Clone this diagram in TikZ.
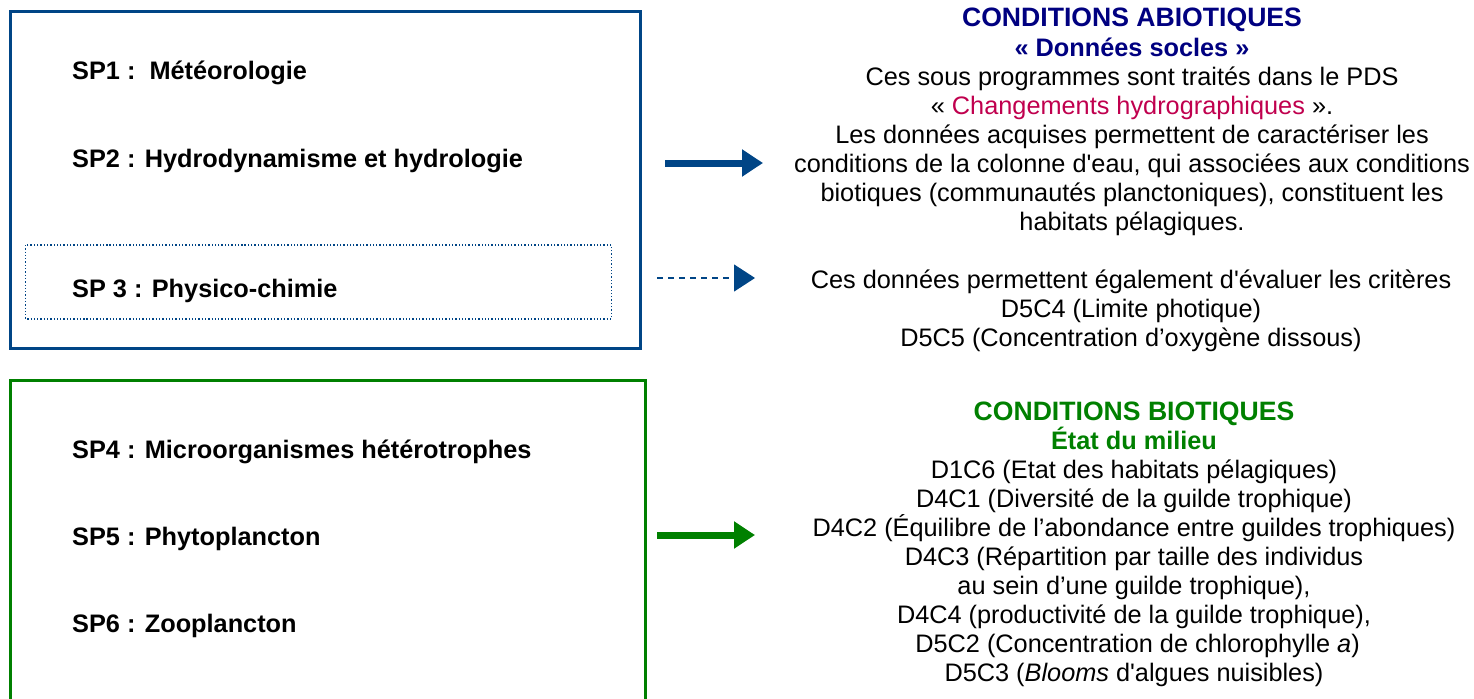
\documentclass[tikz,border=0pt]{standalone}
\usepackage{fontspec}
\setmainfont{Liberation Sans}[Ligatures=TeXOff]
\usetikzlibrary{arrows.meta}
\definecolor{boxblue}{HTML}{004586}
\definecolor{boxgreen}{HTML}{008000}
\definecolor{titlenavy}{HTML}{000080}
\definecolor{linkred}{HTML}{C0004E}
\newcommand{\capshead}{\fontsize{26.6bp}{29.1bp}\selectfont\bfseries}
\begin{document}
\begin{tikzpicture}[x=1bp,y=-1bp,
  txt/.style={font=\fontsize{25.3bp}{29.1bp}\selectfont, inner sep=0pt, align=center, anchor=base},
  sp/.style={font=\fontsize{25.3bp}{29.1bp}\selectfont\bfseries, inner sep=0pt, anchor=base west},
  frame/.style={line width=3bp},
  bigarrow/.style={line width=7bp, -{Triangle[length=21bp,width=26bp]}},
  dasharrow/.style={line width=1.3bp, dash pattern=on 6bp off 5bp, -{Triangle[length=21bp,width=27bp]}}
]
\useasboundingbox (0,0) rectangle (1474,699);
\clip (0,0) rectangle (1474,699);
% boxes
\draw[frame, boxblue] (10,12) rectangle (640,348);
\draw[boxblue, line width=1.3bp, dotted] (25.5,245) rectangle (611.5,319);
\draw[frame, boxgreen] (10,380) rectangle (645,720);
% left labels
\node[sp] (sp1) at (72,80) {SP1 :\ \ Météorologie};
\node[sp] (sp2) at (72,167) {SP2 : Hydrodynamisme et hydrologie};
\node[sp] (sp3) at (72,297) {SP 3 : Physico-chimie};
\node[sp] (sp4) at (72,458) {SP4 : Microorganismes hétérotrophes};
\node[sp] (sp5) at (72,545) {SP5 : Phytoplancton};
\node[sp] (sp6) at (72,632) {SP6 : Zooplancton};
% arrows
\coordinate (a1s) at (665,163);
\coordinate (a1e) at (763,163);
\coordinate (a2s) at (657,278);
\coordinate (a2e) at (755,278);
\coordinate (a3s) at (657,535);
\coordinate (a3e) at (755,535);
\draw[bigarrow, boxblue] (a1s) -- (a1e);
\draw[dasharrow, boxblue] (a2s) -- (a2e);
\draw[bigarrow, boxgreen] (a3s) -- (a3e);
% right texts (anchor base = baseline of the last line)
\node[txt] (abio) at (1132,230.7) {\textcolor{titlenavy}{\capshead CONDITIONS ABIOTIQUES}\\
\textcolor{titlenavy}{\bfseries « Données socles »}\\
Ces sous programmes sont traités dans le PDS\\
« \textcolor{linkred}{Changements hydrographiques} ».\\
Les données acquises permettent de caractériser les\\
conditions de la colonne d'eau, qui associées aux conditions\\
biotiques (communautés planctoniques), constituent les\\
habitats pélagiques.};
\node[txt] (crit) at (1131,346.2) {Ces données permettent également d'évaluer les critères\\
D5C4 (Limite photique)\\
D5C5 (Concentration d’oxygène dissous)};
\node[txt] (bio) at (1134,681.9) {\textcolor{boxgreen}{\capshead CONDITIONS BIOTIQUES}\\
\textcolor{boxgreen}{\bfseries État du milieu}\\
D1C6 (Etat des habitats pélagiques)\\
D4C1 (Diversité de la guilde trophique)\\
D4C2 (Équilibre de l’abondance entre guildes trophiques)\\
D4C3 (Répartition par taille des individus\\
au sein d’une guilde trophique),\\
D4C4 (productivité de la guilde trophique),\\
\ D5C2 (Concentration de chlorophylle \textit{a})\\
D5C3 (\textit{Blooms} d'algues nuisibles)};
\end{tikzpicture}
\end{document}
